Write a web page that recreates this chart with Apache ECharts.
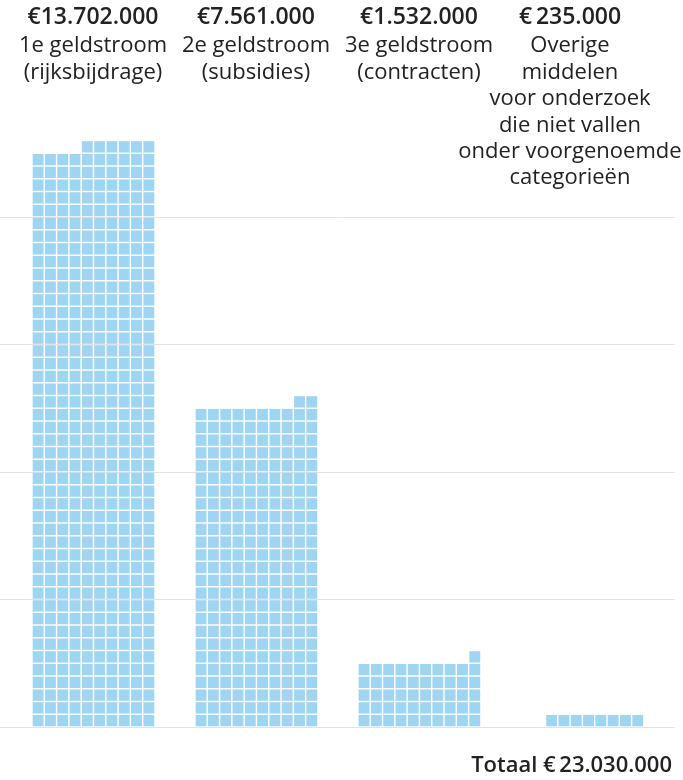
<!DOCTYPE html>
<html>
<head>
<meta charset="utf-8">
<script src="https://cdn.jsdelivr.net/npm/echarts@6/dist/echarts.min.js"></script>
<style>
  html, body { margin: 0; padding: 0; background: #fff; }
  #chart { width: 683px; height: 780px; }
</style>
</head>
<body>
<div id="chart"></div>
<script>
// bedragen per geldstroom
const categories = [
  "1e geldstroom\n(rijksbijdrage)",
  "2e geldstroom\n(subsidies)",
  "3e geldstroom\n(contracten)",
  "Overige\nmiddelen\nvoor onderzoek\ndie niet vallen\nonder voorgenoemde\ncategorieën"
];
const amounts = [13702000, 7561000, 1532000, 235000];
const amountLabels = ["€13.702.000", "€7.561.000", "€1.532.000", "€\u2009235.000"];
const blockCounts = [456, 252, 51, 8]; // aantal blokjes per kolom
const totalLabel = "Totaal €\u200923.030.000";

const BLOCK_VALUE = 30000;   // waarde per blokje
const PER_ROW = 10;          // blokjes per rij
const ROW_VALUE = BLOCK_VALUE * PER_ROW;
const GROUP_STEP = 13.25;    // afstand tussen kolommen (in blokjes)
const GAP = 1.4;             // witruimte tussen blokjes (px)

// blokjes opbouwen: van rechts naar links, van onder naar boven
const blocks = [];
blockCounts.forEach((count, c) => {
  for (let i = 0; i < count; i++) {
    const row = Math.floor(i / PER_ROW);
    const slot = PER_ROW - 1 - (i % PER_ROW);
    blocks.push([c * GROUP_STEP + slot, row * ROW_VALUE, c]);
  }
});

const chart = echarts.init(document.getElementById("chart"));

const FONT = "'Open Sans'";
const labelX = [93, 256, 419, 570];
const graphics = [];
categories.forEach((name, i) => {
  graphics.push({
    type: "text",
    x: labelX[i], y: 17,
    style: {
      text: amountLabels[i],
      font: "600 23px " + FONT,
      fill: "#222",
      textAlign: "center",
      textVerticalAlign: "middle"
    }
  });
  graphics.push({
    type: "text",
    x: labelX[i], y: 33,
    style: {
      text: name,
      font: "22px " + FONT,
      lineHeight: 26.4,
      fill: "#222",
      textAlign: "center",
      textVerticalAlign: "top"
    }
  });
});
graphics.push({
  type: "text",
  x: 672, y: 766,
  style: {
    text: totalLabel,
    font: "600 22px " + FONT,
    fill: "#222",
    textAlign: "right",
    textVerticalAlign: "middle"
  }
});

chart.setOption({
  animation: false,
  grid: { left: 0, right: 8, top: 217, bottom: 53 },
  xAxis: {
    type: "value",
    min: -2.6,
    max: 52.28,
    show: false
  },
  yAxis: {
    type: "value",
    min: 0,
    max: 12000000,
    interval: 3000000,
    axisLine: { show: false },
    axisTick: { show: false },
    axisLabel: { show: false },
    splitLine: { lineStyle: { color: "#e3e3e3", width: 1 } }
  },
  graphic: graphics,
  series: [{
    type: "custom",
    clip: false,
    data: blocks,
    renderItem: function (params, api) {
      const x = api.value(0);
      const y = api.value(1);
      const p0 = api.coord([x, y]);
      const p1 = api.coord([x + 1, y + ROW_VALUE]);
      return {
        type: "rect",
        shape: {
          x: p0[0] + GAP / 2,
          y: p1[1] + GAP / 2,
          width: p1[0] - p0[0] - GAP,
          height: p0[1] - p1[1] - GAP
        },
        style: { fill: "#a0d5f1" }
      };
    }
  }]
});
</script>
</body>
</html>
